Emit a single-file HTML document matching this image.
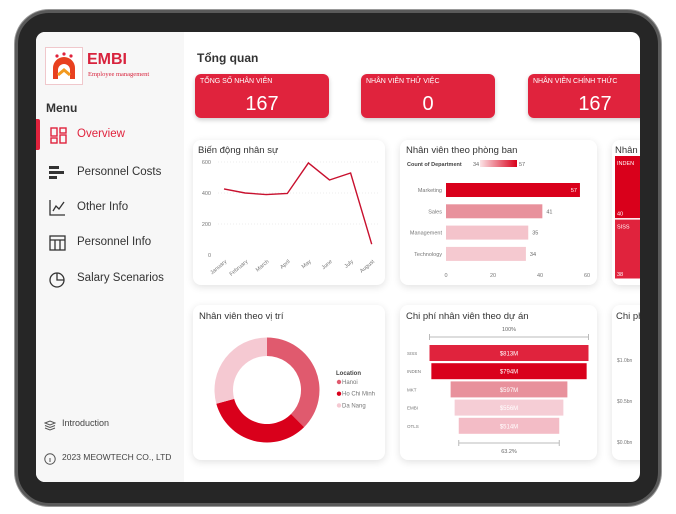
<!DOCTYPE html>
<html><head><meta charset="utf-8">
<style>
*{margin:0;padding:0;box-sizing:border-box}
body{width:676px;height:514px;background:#fff;font-family:"Liberation Sans","Noto Sans CJK SC",sans-serif;position:relative;overflow:hidden}
.abs{position:absolute}
#frame{left:15px;top:10px;width:646px;height:496px;border-radius:34px;background:#262626;border:3px solid #5a5a5a;box-shadow:0 0 0 1px #999}
#screen{left:36px;top:32px;width:604px;height:450px;border-radius:9px;overflow:hidden;background:#fff}
#layer{left:-36px;top:-32px;width:676px;height:514px}
#side{left:36px;top:32px;width:148px;height:450px;background:#f7f7f7}
.menu{font-size:11.5px;color:#333}
.card{background:#fff;border-radius:8px;box-shadow:0 2px 8px rgba(0,0,0,.12)}
.kpi{background:#e0233d;border-radius:6px;color:#fff;box-shadow:0 2px 5px rgba(0,0,0,.2)}
.kpi .l{position:absolute;left:5px;top:4px;font-size:7px}
.kpi .v{position:absolute;left:0;right:0;top:19px;text-align:center;font-size:20px}
.title{font-size:9.5px;color:#333}
svg text{font-family:"Liberation Sans",sans-serif}
</style></head><body>
<div class="abs" id="frame"></div>
<div class="abs" id="screen">
<div class="abs" id="layer">
 <div class="abs" id="side"></div>
 <div class="abs" style="left:45px;top:47px;width:38px;height:38px;border:1px solid #f0c8cc;background:#fff">
  <svg width="36" height="36" viewBox="0 0 36 36"><circle cx="11" cy="8" r="1.6" fill="#e0233d"/><circle cx="18" cy="6" r="1.6" fill="#e0233d"/><circle cx="25" cy="8" r="1.6" fill="#e0233d"/><path d="M7 31 V20 A11 11 0 0 1 29 20 V31 H24 V22 A6 6 0 0 0 12 22 V31Z" fill="#e8401f"/><path d="M12 27 L18 22 L24 27" stroke="#f29a1f" stroke-width="3" fill="none"/></svg>
 </div>
 <div class="abs" style="left:87px;top:51px;font-size:16px;font-weight:bold;color:#d8233d">EMBI</div>
 <div class="abs" style="left:88px;top:71px;font-size:6.5px;color:#d8233d;font-family:'Liberation Serif',serif">Employee management</div>
 <div class="abs" style="left:46px;top:101px;font-size:12px;font-weight:bold;color:#333">Menu</div>
 <div class="abs" style="left:36px;top:119px;width:4px;height:31px;background:#e0233d;border-radius:0 2px 2px 0"></div>
 <div class="abs" style="left:50px;top:127px;width:17px;height:17px">
  <svg width="17" height="17"><g fill="none" stroke="#e0233d" stroke-width="1.4"><rect x="1" y="1" width="6" height="8"/><rect x="10" y="1" width="6" height="5"/><rect x="1" y="11" width="6" height="5"/><rect x="10" y="8" width="6" height="8"/></g></svg></div>
 <div class="abs menu" style="left:77px;top:128px;color:#e0233d">Overview</div>
 <div class="abs" style="left:49px;top:165px"><svg width="16" height="16"><g fill="#333"><rect x="0" y="1" width="10" height="3"/><rect x="0" y="6" width="15" height="3"/><rect x="0" y="11" width="8" height="3"/></g></svg></div>
 <div class="abs menu" style="left:77px;top:166px">Personnel Costs</div>
 <div class="abs" style="left:49px;top:199px"><svg width="17" height="17"><path d="M1 1V16H16" stroke="#333" fill="none" stroke-width="1.3"/><path d="M4 12L7 7L10 10L15 3" stroke="#333" fill="none" stroke-width="1.3"/></svg></div>
 <div class="abs menu" style="left:77px;top:201px">Other Info</div>
 <div class="abs" style="left:49px;top:235px"><svg width="17" height="16"><g fill="none" stroke="#333" stroke-width="1.3"><rect x="1" y="1" width="15" height="14"/><path d="M1 5H16M6 5V15M11 5V15"/></g></svg></div>
 <div class="abs menu" style="left:77px;top:236px">Personnel Info</div>
 <div class="abs" style="left:49px;top:271px"><svg width="17" height="17"><g fill="none" stroke="#333" stroke-width="1.3"><circle cx="8" cy="9" r="7"/><path d="M8 2V9H15"/></g></svg></div>
 <div class="abs menu" style="left:77px;top:272px">Salary Scenarios</div>
 <div class="abs" style="left:44px;top:418px"><svg width="12" height="11"><g fill="none" stroke="#555" stroke-width="1"><path d="M1 3L6 1L11 3L6 5Z"/><path d="M1 5.5L6 7.5L11 5.5"/><path d="M1 8L6 10L11 8"/></g></svg></div>
 <div class="abs" style="left:62px;top:418px;font-size:9px;color:#444">Introduction</div>
 <div class="abs" style="left:44px;top:452px"><svg width="12" height="12"><circle cx="6" cy="6" r="5.2" fill="none" stroke="#555"/><path d="M6 5V9" stroke="#555"/></svg></div>
 <div class="abs" style="left:62px;top:452px;font-size:8.5px;color:#444">2023 MEOWTECH CO., LTD</div>

 <div class="abs" style="left:197px;top:51px;font-size:12px;color:#333;font-weight:bold">Tổng quan</div>
 <div class="abs kpi" style="left:195px;top:74px;width:134px;height:44px"><div class="l">TỔNG SỐ NHÂN VIÊN</div><div class="v">167</div></div>
 <div class="abs kpi" style="left:361px;top:74px;width:134px;height:44px"><div class="l">NHÂN VIÊN THỬ VIỆC</div><div class="v">0</div></div>
 <div class="abs kpi" style="left:528px;top:74px;width:134px;height:44px"><div class="l">NHÂN VIÊN CHÍNH THỨC</div><div class="v">167</div></div>

 <div class="abs card" style="left:193px;top:140px;width:192px;height:145px"></div>
 <div class="abs title" style="left:198px;top:145px">Biến động nhân sự</div>
 <div class="abs card" style="left:400px;top:140px;width:197px;height:145px"></div>
 <div class="abs title" style="left:406px;top:145px">Nhân viên theo phòng ban</div>
 <div class="abs card" style="left:612px;top:140px;width:60px;height:145px"></div>
 <div class="abs title" style="left:615px;top:145px">Nhân viên</div>
 <div class="abs card" style="left:193px;top:305px;width:192px;height:155px"></div>
 <div class="abs title" style="left:199px;top:311px">Nhân viên theo vị trí</div>
 <div class="abs card" style="left:400px;top:305px;width:197px;height:155px"></div>
 <div class="abs title" style="left:406px;top:311px">Chi phí nhân viên theo dự án</div>
 <div class="abs card" style="left:612px;top:305px;width:60px;height:155px"></div>
 <div class="abs title" style="left:616px;top:311px">Chi phí</div>
 <svg id="charts" class="abs" style="left:0;top:0" width="676" height="514"></svg>
</div></div>
<script>
const months=["January","February","March","April","May","June","July","August"];
const headcount=[426,400,390,397,594,484,529,70];
const yTicks=[0,200,400,600];
const depts=["Marketing","Sales","Management","Technology"];
const deptCounts=[57,41,35,34];
const deptColors=["#d9001b","#e8919c","#f4c3cb","#f5c9d0"];
const xTicks=[0,20,40,60];
const treeNames=["INDEN","SISS"];
const treeVals=[40,38];
const locations=["Hanoi","Ho Chi Minh","Da Nang"];
const locShare=[37.5,33.3,29.2];
const locColors=["#e05a6e","#d9001b","#f5c9d2"];
const projects=["SISS","INDEN","MKT","EMBI","OTLS"];
const projCost=[813,794,597,556,514];
const projLabels=["$813M","$794M","$597M","$556M","$514M"];
const projColors=["#e0233d","#d9001b","#e8919c","#f5cdd5","#f3bcc6"];
const costTicks=["$1.0bn","$0.5bn","$0.0bn"];
const costTickVals=[1.0,0.5,0.0];

const S=document.getElementById('charts');const NS="http://www.w3.org/2000/svg";
function mk(t,a,txt){const e=document.createElementNS(NS,t);for(const k in a)e.setAttribute(k,a[k]);if(txt!=null)e.textContent=txt;S.appendChild(e);return e;}
// line chart
const ly=v=>255-v*31/200, lx=i=>224+i*21.1;
yTicks.forEach(t=>{const e=mk('text',{x:211,y:ly(t)+2,'font-size':5.5,fill:'#777','text-anchor':'end'},t);


if(t>0){const g=mk('line',{x1:218,x2:378,y1:ly(t),y2:ly(t),stroke:'#eee','stroke-dasharray':'1 2'});}});
months.forEach((m,i)=>{const e=mk('text',{x:lx(i)+3,y:262,'font-size':5.5,fill:'#777','text-anchor':'end',transform:`rotate(-40 ${lx(i)+3} 262)`},m);

});
const lp=mk('polyline',{points:headcount.map((v,i)=>lx(i)+','+ly(v)).join(' '),fill:'none',stroke:'#c8102e','stroke-width':1.4});


// bar chart
let e=mk('text',{x:407,y:166,'font-size':5.5,'font-weight':'bold',fill:'#444'},'Count of Department');
e=mk('text',{x:473,y:166,'font-size':5.5,fill:'#666'},Math.min(...deptCounts));
const gd=mk('defs',{});gd.innerHTML='<linearGradient id="gr"><stop offset="0" stop-color="#fbe3e6"/><stop offset="1" stop-color="#d9001b"/></linearGradient>';
e=mk('rect',{x:480,y:160,width:37,height:7,fill:'url(#gr)'});
e=mk('text',{x:519,y:166,'font-size':5.5,fill:'#666'},Math.max(...deptCounts));
const bx=v=>446+v*2.35;
xTicks.forEach(t=>{const e=mk('text',{x:bx(t),y:277,'font-size':5.5,fill:'#777','text-anchor':'middle'},t);});
depts.forEach((d,i)=>{const cy=190+i*21.3;
const r=mk('rect',{x:bx(0),y:cy-7,width:bx(deptCounts[i])-bx(0),height:14,fill:deptColors[i]});


const l=mk('text',{x:442,y:cy+2,'font-size':5.5,fill:'#777','text-anchor':'end'},d);


const v=i==0?mk('text',{x:bx(deptCounts[i])-3,y:cy+2,'font-size':5.5,fill:'#fff','text-anchor':'end'},deptCounts[i]):mk('text',{x:bx(deptCounts[i])+4,y:cy+2,'font-size':5.5,fill:'#666'},deptCounts[i]);

});
// treemap
const tTot=treeVals.reduce((a,b)=>a+b,0);let ty=156;
treeNames.forEach((n,i)=>{const h=124*treeVals[i]/tTot;
const r=mk('rect',{x:615,y:ty,width:30,height:h-1.5,fill:i==0?'#d9001b':'#e0233d'});


const t=mk('text',{x:617,y:ty+9,'font-size':5.5,fill:'#fff'},n);
const t2=mk('text',{x:617,y:ty+h-4,'font-size':5.5,fill:'#fff'},treeVals[i]);
ty+=h;});
// donut
const cx=267,cy=390,R=52.5,r0=34;let a0=0;const tot=locShare.reduce((a,b)=>a+b,0);
function pt(a,rr){const t=a*Math.PI*2-Math.PI/2;return[cx+rr*Math.cos(t),cy+rr*Math.sin(t)];}
locShare.forEach((v,i)=>{const a1=a0+v/tot;const lg=(a1-a0)>.5?1:0;
const[p1,p2]=[pt(a0,R),pt(a1,R)],[p3,p4]=[pt(a1,r0),pt(a0,r0)];
const p=mk('path',{d:`M${p1}A${R} ${R} 0 ${lg} 1 ${p2}L${p3}A${r0} ${r0} 0 ${lg} 0 ${p4}Z`,fill:locColors[i]});


a0=a1;
const d=mk('circle',{cx:339,cy:382+i*11.7,r:2.2,fill:locColors[i]});
const t=mk('text',{x:342,y:384+i*11.7,'font-size':6,fill:'#777'},locations[i]);});
e=mk('text',{x:336,y:375,'font-size':6,'font-weight':'bold',fill:'#444'},'Location');
// funnel
const fc=509,fw=v=>159*v/projCost[0];
e=mk('text',{x:fc,y:331,'font-size':5.5,fill:'#666','text-anchor':'middle'},'100%');
e=mk('path',{d:`M${fc-fw(projCost[0])/2} 334V340M${fc-fw(projCost[0])/2} 337H${fc+fw(projCost[0])/2}M${fc+fw(projCost[0])/2} 334V340`,stroke:'#bbb',fill:'none'});
projects.forEach((p,i)=>{const y=353+i*18.2,w=fw(projCost[i]);
const r=mk('rect',{x:fc-w/2,y:y-8,width:w,height:16,fill:projColors[i]});


const t=mk('text',{x:fc,y:y+2.5,'font-size':6,fill:'#fff','text-anchor':'middle'},projLabels[i]);
const l=mk('text',{x:407,y:y+2,'font-size':4.5,fill:'#777'},p);});
const lw=fw(projCost[projCost.length-1]);
e=mk('path',{d:`M${fc-lw/2} 440V446M${fc-lw/2} 443H${fc+lw/2}M${fc+lw/2} 440V446`,stroke:'#bbb',fill:'none'});
e=mk('text',{x:fc,y:453,'font-size':5.5,fill:'#666','text-anchor':'middle'},(projCost[projCost.length-1]/projCost[0]*100).toFixed(1)+'%');
// partial cost axis
costTickVals.forEach((v,i)=>{const t=mk('text',{x:617,y:444-v*82,'font-size':5,fill:'#777'},costTicks[i]);});
</script>
</body></html>
